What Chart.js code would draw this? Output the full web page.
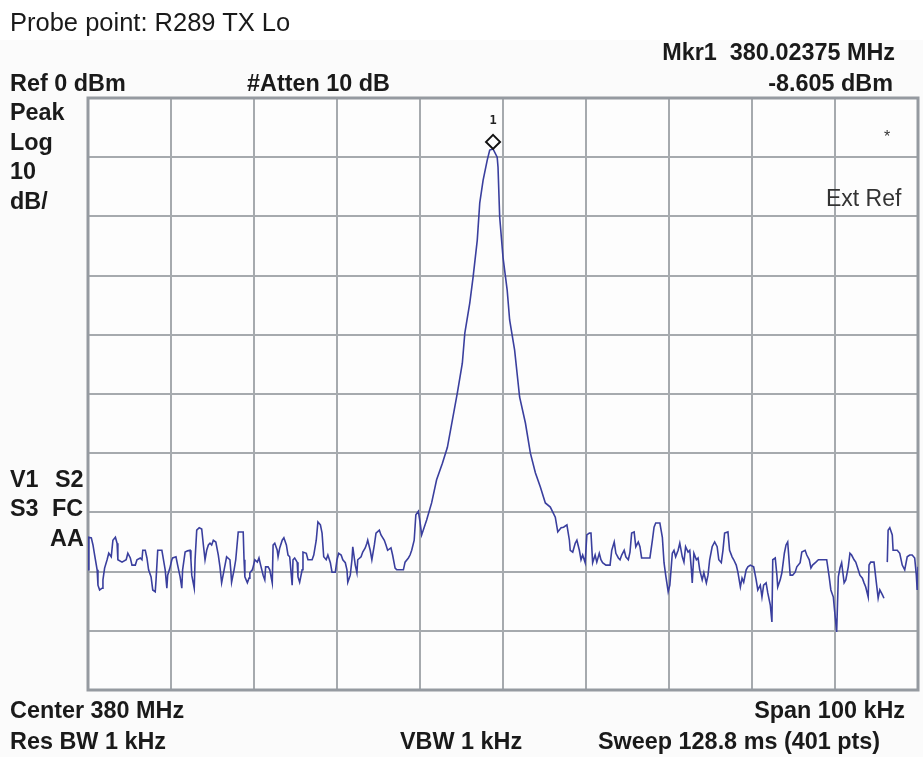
<!DOCTYPE html>
<html>
<head>
<meta charset="utf-8">
<script src="https://cdn.jsdelivr.net/npm/chart.js@4/dist/chart.umd.min.js"></script>
<style>
  html, body { margin:0; padding:0; background:#ffffff; }
  #wrap { position:relative; width:923px; height:757px; overflow:hidden; }
  #shade { position:absolute; left:0; top:40px; width:923px; height:717px; background:#fbfbfb; }
  canvas { position:absolute; left:0; top:0; }
  .t { position:absolute; height:26px; line-height:26px; white-space:pre; color:#1a1a1a;
       font-family:"Liberation Sans", Arial, sans-serif; font-weight:bold; font-size:23.4px; }
  .n { font-weight:normal; }
</style>
</head>
<body>
<div id="wrap">
  <div id="shade"></div>
  <canvas id="c" width="923" height="757"></canvas>

  <div class="t n" style="left:10px;top:8px;font-size:25.5px;line-height:28px;height:28px;">Probe point: R289 TX Lo</div>
  <div class="t" style="right:28px;top:39px;">Mkr1  380.02375 MHz</div>
  <div class="t" style="right:30px;top:70px;">-8.605 dBm</div>
  <div class="t" style="left:10px;top:70px;">Ref 0 dBm</div>
  <div class="t" style="left:247px;top:70px;">#Atten 10 dB</div>
  <div class="t" style="left:10px;top:99px;">Peak</div>
  <div class="t" style="left:10px;top:129px;">Log</div>
  <div class="t" style="left:10px;top:158px;">10</div>
  <div class="t" style="left:10px;top:188px;">dB/</div>
  <div class="t" style="left:10px;top:466px;">V1</div>
  <div class="t" style="left:55px;top:466px;">S2</div>
  <div class="t" style="left:10px;top:495px;">S3</div>
  <div class="t" style="left:52px;top:495px;">FC</div>
  <div class="t" style="left:50px;top:525px;">AA</div>
  <div class="t n" style="left:884px;top:124px;font-size:16px;color:#333;">*</div>
  <div class="t n" style="left:826px;top:185px;font-size:23px;color:#333;">Ext Ref</div>
  <div class="t" style="left:10px;top:697px;">Center 380 MHz</div>
  <div class="t" style="right:18px;top:697px;">Span 100 kHz</div>
  <div class="t" style="left:10px;top:728px;">Res BW 1 kHz</div>
  <div class="t" style="left:400px;top:728px;">VBW 1 kHz</div>
  <div class="t" style="left:598px;top:728px;">Sweep 128.8 ms (401 pts)</div>
</div>

<script>
// ---- Data (frequency offset from 380 MHz centre in kHz, level in dBm) ----
const noiseLeftFreq = [
  -50.0,-49.9,-49.6,-49.4,-49.2,-48.9,-48.8,-48.6,-48.3,-48.2,
  -48.0,-47.7,-47.5,-47.2,-47.0,-46.7,-46.5,-46.4,-45.9,-45.4,
  -45.2,-44.9,-44.7,-44.3,-44.1,-43.7,-43.5,-43.4,-43.1,-42.9,
  -42.7,-42.4,-42.2,-41.9,-41.8,-41.6,-41.1,-41.0,-40.7,-40.5,
  -40.4,-40.1,-39.9,-39.8,-39.4,-39.2,-38.9,-38.7,-38.6,-38.3,
  -38.0,-37.7,-37.6,-37.5,-37.2,-37.1,-36.9,-36.6,-36.3,-36.1,
  -35.9,-35.7,-35.5,-35.3,-35.1,-34.9,-34.6,-34.3,-34.1,-33.9,
  -33.6,-33.3,-32.9,-32.8,-32.7,-32.4,-32.2,-31.9,-31.3,-31.2,
  -31.1,-30.8,-30.6,-30.5,-30.2,-30.1
];
const noiseLeftLevel = [
  -79.7,-74.2,-74.3,-75.5,-77.2,-79.7,-82.3,-83.1,-82.8,-81.4,
  -79.4,-78.0,-76.9,-77.5,-74.7,-74.2,-75.2,-78.0,-78.4,-78.0,
  -76.9,-77.7,-78.9,-78.9,-78.0,-77.7,-78.0,-76.4,-76.4,-77.7,
  -79.7,-80.9,-83.1,-83.4,-81.4,-76.4,-76.4,-77.2,-79.7,-82.8,
  -80.6,-79.2,-78.0,-77.7,-77.5,-78.9,-80.9,-82.8,-79.7,-76.7,
  -76.5,-76.4,-78.0,-80.6,-82.8,-78.0,-73.0,-72.6,-72.8,-75.5,
  -78.0,-76.4,-75.5,-75.2,-75.5,-74.7,-75.0,-77.2,-79.2,-81.9,
  -79.7,-77.5,-78.0,-79.7,-81.8,-79.7,-78.0,-73.3,-73.3,-78.0,
  -80.9,-81.9,-81.1,-80.2,-79.7,-79.2
];
const noiseMidFreq = [
  -29.9,-29.6,-29.4,-29.2,-28.9,-28.7,-28.6,-28.3,-28.1,-27.8,
  -27.7,-27.5,-27.2,-27.1,-26.9,-26.6,-26.4,-26.1,-25.9,-25.7,
  -25.4,-25.3,-25.1,-24.8,-24.7,-24.5,-24.2,-24.1,-23.7,-23.5,
  -23.0,-22.8,-22.5,-22.3,-22.0,-21.8,-21.6,-21.3,-21.1,-20.8,
  -20.6,-20.2,-20.0,-19.8,-19.5,-19.3,-19.0,-18.8,-18.7,-18.4,
  -18.2,-18.1,-17.8,-17.6,-17.5,-17.1,-16.9,-16.6,-16.4,-16.3,
  -16.0,-15.8,-15.5,-15.3,-14.9,-14.7,-14.3,-14.1,-13.9,-13.5,
  -13.3,-13.0,-12.8,-12.0,-11.8,-11.4,-11.2,-11.0,-10.7,-10.5,
  -10.2,-10.0,-9.8
];
const noiseMidLevel = [
  -78.0,-78.4,-77.7,-78.9,-80.6,-81.4,-79.2,-79.2,-79.7,-81.9,
  -75.5,-75.2,-76.4,-77.5,-76.0,-74.7,-74.3,-75.5,-77.2,-77.5,
  -82.3,-78.0,-77.7,-78.4,-80.9,-81.8,-79.7,-76.7,-76.9,-78.0,
  -78.0,-77.2,-74.7,-71.6,-72.1,-73.5,-77.5,-78.0,-77.2,-78.5,
  -80.1,-80.1,-78.0,-76.9,-77.2,-78.0,-78.5,-79.7,-81.8,-80.6,
  -78.0,-75.8,-78.9,-80.2,-78.0,-77.5,-76.7,-76.0,-75.2,-74.7,
  -76.4,-78.0,-75.5,-73.5,-73.0,-73.8,-74.7,-75.5,-76.4,-76.0,
  -77.2,-79.4,-79.7,-79.7,-78.4,-77.7,-77.2,-76.4,-74.7,-70.4,
  -69.8,-71.6,-73.8
];
const carrierFreq = [
  -9.2,-8.6,-8.0,-7.3,-6.7,-6.1,-5.5,-4.9,-4.6,-4.0,
  -3.6,-3.1,-2.8,-2.4,-1.9,-1.6,-1.2,-0.7,-0.6,-0.4,
   0.0, 0.5, 0.8, 1.4, 2.0, 2.7, 3.3, 3.9, 4.5, 5.1,
   5.7, 6.3, 6.6, 7.0, 7.3, 7.7, 8.0, 8.1, 8.4, 8.7,
   8.9, 9.2, 9.4, 9.6, 9.9,10.1,10.4
];
const carrierLevel = [
  -71.3,-68.4,-64.5,-61.7,-59.0,-54.4,-49.8,-44.8,-39.7,-34.6,
  -30.2,-24.0,-17.7,-13.9,-10.5, -8.8, -8.6,-10.0,-11.7,-20.1,
  -26.9,-32.4,-37.5,-42.6,-50.5,-54.9,-60.0,-63.3,-65.7,-68.4,
  -69.1,-70.8,-73.3,-72.6,-72.5,-72.1,-74.7,-76.4,-76.7,-75.2,
  -74.7,-76.4,-78.0,-77.2,-78.5,-73.8,-73.5
];
const noiseRightFreq = [
  10.6,10.8,11.1,11.3,11.6,11.8,12.0,12.4,12.9,13.1,
  13.4,13.6,13.9,14.1,14.3,14.6,14.8,15.1,15.3,15.5,
  15.8,16.0,16.3,16.5,16.7,17.7,18.0,18.2,18.4,18.9,
  19.2,19.4,19.6,19.9,20.1,20.4,20.6,20.8,21.1,21.3,
  21.6,21.8,22.0,22.3,22.5,22.7,22.8,23.0,23.3,23.5,
  23.7,24.0,24.2,24.5,24.7,24.9,25.2,25.5,25.8,26.0,
  26.3,26.5,26.7,27.1,27.3,27.6,27.8,28.1,28.3,28.6,
  28.8,29.0,29.3,29.5
];
const noiseRightLevel = [
  -73.5,-78.5,-77.2,-78.4,-76.9,-78.0,-78.5,-78.9,-78.9,-76.4,
  -75.0,-76.9,-77.7,-78.0,-77.2,-76.4,-77.5,-78.0,-76.7,-73.5,
  -73.3,-75.8,-75.0,-75.8,-77.7,-77.7,-74.7,-72.5,-71.8,-71.8,
  -74.2,-78.5,-80.6,-83.4,-82.3,-76.9,-76.4,-77.5,-76.4,-75.2,
  -77.5,-78.4,-75.8,-76.7,-76.4,-79.7,-81.9,-76.9,-78.0,-77.7,
  -79.7,-81.4,-80.2,-81.9,-80.6,-78.0,-75.8,-75.0,-75.8,-78.0,
  -78.5,-76.4,-73.5,-73.3,-76.4,-77.5,-78.0,-78.9,-80.1,-82.6,
  -81.1,-81.8,-79.7,-79.2
];
const noiseEdgeFreq = [
  29.8,30.2,30.5,30.7,31.0,31.2,31.4,31.7,31.9,32.2,
  32.4,32.5,32.8,33.0,33.1,33.4,33.6,33.9,34.1,34.3,
  34.6,34.9,35.2,35.4,35.8,36.0,36.4,36.6,36.9,37.1,
  37.3,37.7,38.0,39.0,39.3,39.5,39.8,40.0,40.2,40.4,
  40.6,40.8,41.1,41.3,41.6,41.8,42.0,42.3,42.5,42.8,
  43.0,43.3,43.5,43.7,44.0,44.1,44.3,44.7,44.9,45.2,
  45.4,45.7,45.9,46.1,46.3,46.4,46.6,46.9,47.0,47.5,
  47.8,48.1,48.4,48.7,49.0,49.3,49.6,49.8,49.9,50.0
];
const noiseEdgeLevel = [
  -78.9,-79.2,-81.4,-83.1,-82.3,-84.3,-82.3,-81.9,-83.6,-85.6,
  -88.5,-78.0,-77.7,-80.6,-82.6,-81.4,-80.2,-76.9,-75.5,-75.0,
  -80.6,-80.6,-80.1,-79.2,-78.5,-76.7,-76.4,-77.2,-78.0,-79.4,
  -78.9,-78.4,-78.0,-78.0,-80.9,-83.1,-84.3,-87.3,-90.2,-80.9,
  -79.4,-78.5,-81.9,-81.4,-79.2,-76.9,-77.2,-78.0,-78.4,-79.7,
  -80.6,-81.1,-81.9,-82.6,-84.3,-78.9,-78.4,-78.4,-80.9,-84.5,
  -83.1,-83.9,-84.5, null,-78.4,-73.0,-72.6,-73.8,-76.4,-76.4,
  -76.9,-78.9,-79.7,-77.5,-77.2,-77.2,-77.7,-80.6,-83.1,-79.2
];

// Marker 1 (displayed on the trace peak)
const markerFreqKHz = -1.2;
const markerLevelDBm = -8.6;

// Axis layout: span 100 kHz (10 kHz/div), ref 0 dBm, 10 dB/div
const spanKHz = [-50, 50];
const levelRange = [-100, 0];
const xDivKHz = 10;
const yDivDB = 10;

const freqKHz = [].concat(noiseLeftFreq, noiseMidFreq, carrierFreq, noiseRightFreq, noiseEdgeFreq);
const levelDBm = [].concat(noiseLeftLevel, noiseMidLevel, carrierLevel, noiseRightLevel, noiseEdgeLevel);
const tracePoints = freqKHz.map((f, i) => ({ x: f, y: levelDBm[i] }));

const framePlugin = {
  id: 'frame',
  beforeDraw(chart) {
    const a = chart.chartArea, ctx = chart.ctx;
    ctx.save();
    ctx.fillStyle = '#fdfdfd';
    ctx.fillRect(a.left, a.top, a.right - a.left, a.bottom - a.top);
    ctx.restore();
  },
  beforeDatasetsDraw(chart) {
    const a = chart.chartArea, ctx = chart.ctx;
    ctx.save();
    ctx.strokeStyle = '#959aa0';
    ctx.lineWidth = 3;
    ctx.strokeRect(a.left, a.top, a.right - a.left, a.bottom - a.top);
    ctx.restore();
  },
  afterDatasetsDraw(chart) {
    const ctx = chart.ctx;
    const x = chart.scales.x.getPixelForValue(markerFreqKHz);
    const y = chart.scales.y.getPixelForValue(markerLevelDBm) - 7;
    const s = 7;
    ctx.save();
    ctx.strokeStyle = '#111';
    ctx.lineWidth = 2;
    ctx.beginPath();
    ctx.moveTo(x, y - s); ctx.lineTo(x + s, y); ctx.lineTo(x, y + s); ctx.lineTo(x - s, y); ctx.closePath();
    ctx.stroke();
    ctx.fillStyle = '#222';
    ctx.font = 'bold 12px "DejaVu Sans Mono", monospace';
    ctx.textAlign = 'center';
    ctx.textBaseline = 'middle';
    ctx.fillText('1', x, y - 21);
    ctx.restore();
  }
};

new Chart(document.getElementById('c'), {
  type: 'line',
  data: {
    datasets: [{
      data: tracePoints,
      borderColor: '#3a3f9e',
      borderWidth: 1.6,
      pointRadius: 0,
      tension: 0,
      spanGaps: false,
      fill: false
    }]
  },
  options: {
    responsive: false,
    animation: false,
    events: [],
    layout: { padding: { left: 88, top: 98, right: 5, bottom: 67 } },
    plugins: { legend: { display: false }, tooltip: { enabled: false }, title: { display: false } },
    scales: {
      x: {
        type: 'linear', min: spanKHz[0], max: spanKHz[1],
        ticks: { display: false, stepSize: xDivKHz },
        grid: { color: '#a6aaae', lineWidth: 2, drawTicks: false },
        border: { display: false }
      },
      y: {
        type: 'linear', min: levelRange[0], max: levelRange[1],
        ticks: { display: false, stepSize: yDivDB },
        grid: { color: '#a6aaae', lineWidth: 2, drawTicks: false },
        border: { display: false }
      }
    }
  },
  plugins: [framePlugin]
});
</script>
</body>
</html>
